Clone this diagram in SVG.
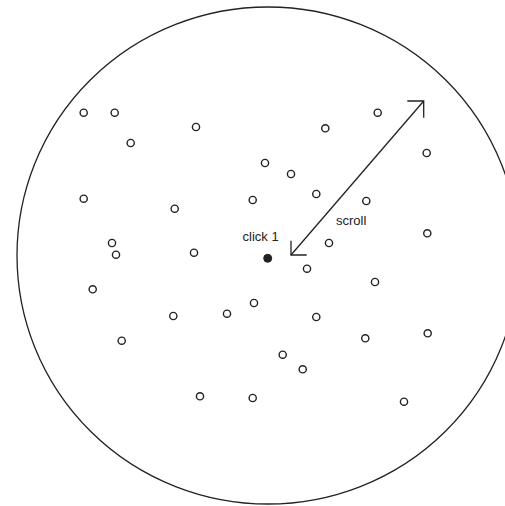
<svg xmlns="http://www.w3.org/2000/svg" width="505" height="506" viewBox="0 0 505 506">
<style>
.dot{fill:#fff;stroke:#222;stroke-width:1.4}
.lbl{font-family:"Liberation Sans",Arial,sans-serif;font-size:13px;fill:#222}
.con{fill:none;stroke:#222;stroke-width:1.3}
</style>
<rect width="505" height="506" fill="#fff"/>
<g id="boundary"><ellipse cx="268" cy="255.5" rx="251" ry="248.5" fill="none" stroke="#222" stroke-width="1.3"/></g>
<g id="points">
<circle class="dot" cx="83.7" cy="112.7" r="3.6"/>
<circle class="dot" cx="114.7" cy="112.7" r="3.6"/>
<circle class="dot" cx="196" cy="127" r="3.6"/>
<circle class="dot" cx="325.3" cy="128.3" r="3.6"/>
<circle class="dot" cx="377.7" cy="112.7" r="3.6"/>
<circle class="dot" cx="130.7" cy="143" r="3.6"/>
<circle class="dot" cx="426.7" cy="153" r="3.6"/>
<circle class="dot" cx="265" cy="163" r="3.6"/>
<circle class="dot" cx="291" cy="174" r="3.6"/>
<circle class="dot" cx="83.7" cy="198.7" r="3.6"/>
<circle class="dot" cx="174.7" cy="208.7" r="3.6"/>
<circle class="dot" cx="252.7" cy="200" r="3.6"/>
<circle class="dot" cx="316.3" cy="194" r="3.6"/>
<circle class="dot" cx="366.3" cy="201" r="3.6"/>
<circle class="dot" cx="112" cy="243" r="3.6"/>
<circle class="dot" cx="116" cy="254.7" r="3.6"/>
<circle class="dot" cx="194" cy="252.7" r="3.6"/>
<circle class="dot" cx="329" cy="243" r="3.6"/>
<circle class="dot" cx="427.3" cy="233.3" r="3.6"/>
<circle class="dot" cx="307" cy="268.7" r="3.6"/>
<circle class="dot" cx="92.7" cy="289.3" r="3.6"/>
<circle class="dot" cx="375" cy="282" r="3.6"/>
<circle class="dot" cx="254" cy="303" r="3.6"/>
<circle class="dot" cx="227" cy="313.7" r="3.6"/>
<circle class="dot" cx="173.3" cy="316" r="3.6"/>
<circle class="dot" cx="316.3" cy="317" r="3.6"/>
<circle class="dot" cx="427.7" cy="333.3" r="3.6"/>
<circle class="dot" cx="365.3" cy="338.3" r="3.6"/>
<circle class="dot" cx="121.7" cy="340.7" r="3.6"/>
<circle class="dot" cx="282.7" cy="354.7" r="3.6"/>
<circle class="dot" cx="302.7" cy="369.3" r="3.6"/>
<circle class="dot" cx="200" cy="396.3" r="3.6"/>
<circle class="dot" cx="252.7" cy="398" r="3.6"/>
<circle class="dot" cx="404" cy="401.7" r="3.6"/>
</g>
<g id="click1">
<circle cx="267.7" cy="258.3" r="4" fill="#222" stroke="#222" stroke-width="1"/>
<text class="lbl" x="242.5" y="241">click 1</text>
</g>
<g id="connectors">
<path class="con" d="M291,255 L423.7,101"/>
<path class="con" d="M407.3,101 L423.7,101 L423.7,117.7"/>
<path class="con" d="M291,240.7 L291,255 L306.7,255"/>
<text class="lbl" x="336" y="225">scroll</text>
</g>
</svg>
